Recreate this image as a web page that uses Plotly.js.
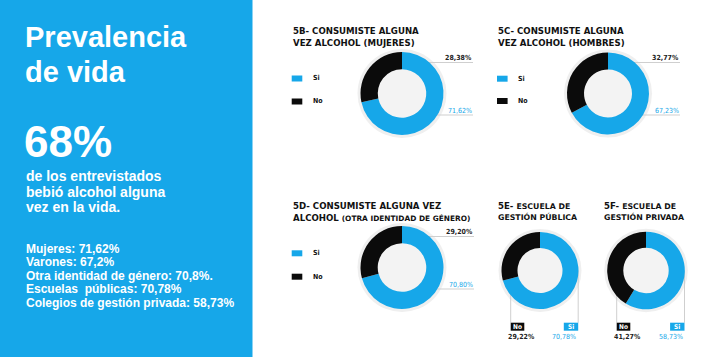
<!DOCTYPE html>
<html><head><meta charset="utf-8">
<script src="https://cdn.plot.ly/plotly-3.0.1.min.js"></script>
<style>html,body{margin:0;padding:0;background:#fff}#c{width:720px;height:357px}</style>
</head><body><div id="c"></div>
<script>
// ---- data ----
const categories = ['Si', 'No'];
const mujeres  = [71.62, 28.38];
const hombres  = [67.23, 32.77];
const otra     = [70.80, 29.20];
const publica  = [70.78, 29.22];
const privada  = [58.73, 41.27];
const headline = '68%';
const headlineLines = ['de los entrevistados', 'bebió alcohol alguna', 'vez en la vida.'];
const statLines = ['Mujeres: 71,62%', 'Varones: 67,2%', 'Otra identidad de género: 70,8%.', 'Escuelas  públicas: 70,78%', 'Colegios de gestión privada: 58,73%'];

// ---- layout helpers ----
const W = 720, H = 357;
const BLUE = '#16a7e9', BLACK = '#0b0b0b', RING = '#efefef', HOLE = '#f3f3f3', LINE = '#cfcfcf';
const X = p => p / W, Y = p => 1 - p / H;
const fmt = v => v.toFixed(2).replace('.', ',') + '%';
const TF = 'DejaVu Sans, Verdana, sans-serif';
const NF = 'DejaVu Sans Condensed, Liberation Sans Narrow, DejaVu Sans, sans-serif';
const LF = 'Liberation Sans, Arial, Helvetica, sans-serif';

const charts = [
  {vals: mujeres, cx: 402, cy: 93.5, r: 41.5, style: 'side', tx: 291.7, tb: [34.3, 46],
   title: ['5B- CONSUMISTE ALGUNA', 'VEZ ALCOHOL (MUJERES)'], lx: 291.7, ly: [78.5, 101.5], lend: 473},
  {vals: hombres, cx: 608, cy: 93.5, r: 41, style: 'side', tx: 497.3, tb: [34.3, 46],
   title: ['5C- CONSUMISTE ALGUNA', 'VEZ ALCOHOL (HOMBRES)'], lx: 497, ly: [78.7, 101], lend: 680},
  {vals: otra, cx: 402, cy: 267.5, r: 41.5, style: 'side', tx: 291.7, tb: [209.3, 220.7],
   title: ['5D- CONSUMISTE ALGUNA VEZ', 'ALCOHOL <span style="font-size:7.4px">(OTRA IDENTIDAD DE GÉNERO)</span>'], lx: 291.7, ly: [253.3, 276.7], lend: 474},
  {vals: publica, cx: 540, cy: 270.5, r: 38.5, style: 'below', tx: 497.3, tb: [209.3, 220.3],
   title: ['5E- <span style="font-size:7.8px">ESCUELA DE</span>', '<span style="font-size:7.8px">GESTIÓN PÚBLICA</span>']},
  {vals: privada, cx: 646, cy: 270.5, r: 38.8, style: 'below', tx: 603.3, tb: [209.3, 220.3],
   title: ['5F- <span style="font-size:7.8px">ESCUELA DE</span>', '<span style="font-size:7.8px">GESTIÓN PRIVADA</span>']}
];

const traces = [], shapes = [], ann = [];

// left blue panel
shapes.push({type: 'rect', xref: 'paper', yref: 'paper', x0: 0, x1: X(252.5), y0: 0, y1: 1, fillcolor: BLUE, line: {width: 0}, layer: 'below'});

function txt(text, x, base, size, opts) {
  opts = opts || {};
  ann.push({text: text, x: X(x), y: Y(base - 0.35 * size), xref: 'paper', yref: 'paper',
    xanchor: opts.anchor || 'left', yanchor: 'middle', showarrow: false, borderpad: 0,
    font: {family: opts.family || LF, size: size, color: opts.color || '#fff', weight: opts.weight || 700}});
}

// left panel text
txt('Prevalencia', 24, 46.7, 29);
txt('de vida', 24, 81.7, 29);
txt(headline, 23, 157, 44);
headlineLines.forEach((t, i) => txt(t, 24.5, 181 + i * 15.4, 14));
statLines.forEach((t, i) => txt(t, 24.5, 252.7 + i * 13.6, 12));

charts.forEach(c => {
  // faint outer ring and hole fill
  shapes.push({type: 'circle', xref: 'paper', yref: 'paper', x0: X(c.cx - c.r - 3), x1: X(c.cx + c.r + 3),
    y0: Y(c.cy + c.r + 3), y1: Y(c.cy - c.r - 3), fillcolor: RING, line: {width: 0}, layer: 'below'});
  const hr = c.r * 0.585;
  if (c.style === 'side') {
    // leader lines
    const yt = c.cy - 31, yb = c.cy + 21.5;
    shapes.push({type: 'line', xref: 'paper', yref: 'paper', x0: X(c.cx + 10), x1: X(c.lend), y0: Y(yt), y1: Y(yt), line: {color: LINE, width: 1}, layer: 'below'});
    shapes.push({type: 'line', xref: 'paper', yref: 'paper', x0: X(c.cx + 10), x1: X(c.lend), y0: Y(yb), y1: Y(yb), line: {color: LINE, width: 1}, layer: 'below'});
    txt(fmt(c.vals[1]), c.lend, yt - 2, 7, {anchor: 'right', family: NF, color: '#222'});
    txt(fmt(c.vals[0]), c.lend, yb - 2, 7, {anchor: 'right', family: NF, color: BLUE, weight: 400});
    // legend
    [BLUE, BLACK].forEach((col, i) => {
      shapes.push({type: 'rect', xref: 'paper', yref: 'paper', x0: X(c.lx), x1: X(c.lx + 10.6), y0: Y(c.ly[i] + 3), y1: Y(c.ly[i] - 3), fillcolor: col, line: {width: 0}});
      txt(categories[i], c.lx + 20, c.ly[i] + 2.4, 7, {family: NF, color: '#111'});
    });
  } else {
    const xl = c.cx - 29.3, xr = c.cx + c.r - 0.3, by0 = 322.7, by1 = 330.7;
    shapes.push({type: 'line', xref: 'paper', yref: 'paper', x0: X(xl), x1: X(xl), y0: Y(c.cy), y1: Y(by0), line: {color: LINE, width: 1}, layer: 'below'});
    shapes.push({type: 'line', xref: 'paper', yref: 'paper', x0: X(xr), x1: X(xr), y0: Y(c.cy), y1: Y(by0), line: {color: LINE, width: 1}, layer: 'below'});
    // No box (left), Si box (right)
    shapes.push({type: 'rect', xref: 'paper', yref: 'paper', x0: X(xl), x1: X(xl + 13.6), y0: Y(by1), y1: Y(by0), fillcolor: BLACK, line: {width: 0}});
    shapes.push({type: 'rect', xref: 'paper', yref: 'paper', x0: X(xr - 14.4), x1: X(xr), y0: Y(by1), y1: Y(by0), fillcolor: BLUE, line: {width: 0}});
    txt(categories[1], xl + 6.8, 329.3, 6.5, {anchor: 'center', family: NF});
    txt(categories[0], xr - 7.2, 329.3, 6.5, {anchor: 'center', family: NF});
    txt(fmt(c.vals[1]), xl + 11, 339.2, 7, {anchor: 'center', family: NF, color: '#222'});
    txt(fmt(c.vals[0]), xr - 14, 339.2, 7, {anchor: 'center', family: NF, color: BLUE, weight: 400});
  }
  shapes.push({type: 'circle', xref: 'paper', yref: 'paper', x0: X(c.cx - hr), x1: X(c.cx + hr),
    y0: Y(c.cy + hr), y1: Y(c.cy - hr), fillcolor: HOLE, line: {width: 0}, layer: 'below'});
  // title
  c.title.forEach((t, i) => txt(t, c.tx, c.tb[i], 8.6, {family: TF, color: '#111'}));
  traces.push({
    type: 'pie', labels: categories, values: c.vals, hole: 0.585, sort: false, direction: 'clockwise', rotation: 0,
    marker: {colors: [BLUE, BLACK], line: {width: 0}}, textinfo: 'none', hoverinfo: 'skip', showlegend: false,
    domain: {x: [X(c.cx - c.r), X(c.cx + c.r)], y: [Y(c.cy + c.r), Y(c.cy - c.r)]}
  });
});

Plotly.newPlot('c', traces, {
  width: W, height: H, margin: {l: 0, r: 0, t: 0, b: 0},
  paper_bgcolor: '#fff', plot_bgcolor: '#fff', showlegend: false,
  shapes: shapes, annotations: ann
}, {displayModeBar: false, staticPlot: true});
</script></body></html>
